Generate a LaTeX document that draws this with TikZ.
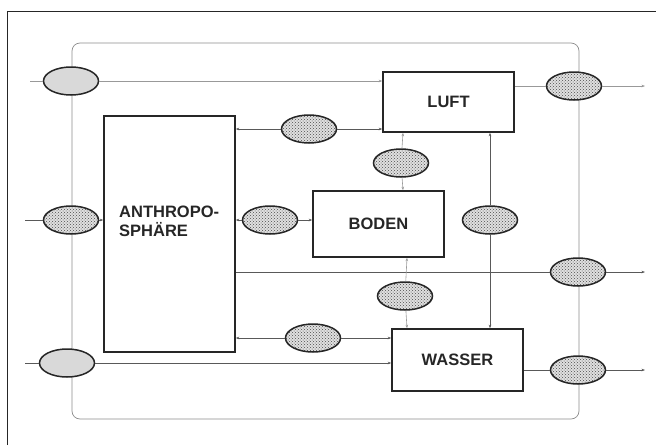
\documentclass[tikz,border=0pt]{standalone}
\usepackage{fontspec}
\setmainfont{Liberation Sans}
\usetikzlibrary{patterns,arrows.meta,shapes.geometric}
\begin{document}
\begin{tikzpicture}[x=1pt,y=-1pt,
  lbl/.style={font=\fontsize{16.5}{19}\selectfont\bfseries,text=black!85},
  compbox/.style={lbl,draw=black!85,line width=1.5pt,minimum width=131pt,inner sep=0pt},
  flowell/.style={ellipse,draw=black!85,line width=1.5pt,minimum width=55pt,minimum height=28pt,inner sep=0pt,
    preaction={fill=black!12},pattern=crosshatch dots,pattern color=black!70},
  lightell/.style={ellipse,draw=black!85,line width=1.5pt,minimum width=55pt,minimum height=28pt,inner sep=0pt,
    fill=black!15},
  flow/.style={draw=black!65,line width=0.6pt},
  faint/.style={draw=black!40,line width=0.6pt},
  tip/.style={-{Stealth[length=3.5pt,width=2.6pt]}}
]
\useasboundingbox (0,0) rectangle (656,445);
% outer frame (left and top)
\draw[black!85,line width=1pt] (7,445) -- (7,11) -- (656,11);
% inner system boundary
\draw[black!45,line width=0.7pt,rounded corners=8pt] (72,43) rectangle (579,419);

% boxes
\node[compbox,minimum height=236pt] (anthro) at (169.5,234) {};
\node[lbl,align=left,anchor=west,inner sep=0pt] (anthrotext) at (119,221) {ANTHROPO-\\SPH\"ARE};
\node[compbox,minimum height=60pt] (luft) at (448.5,102) {LUFT};
\node[compbox,minimum height=66pt] (boden) at (378.5,224) {BODEN};
\node[compbox,minimum height=62pt] (wasser) at (457.5,360) {WASSER};

% ellipses
\node[lightell] (e1) at (71,81) {};
\node[flowell] (e2) at (71,220) {};
\node[lightell] (e3) at (67,363) {};
\node[flowell] (e4) at (309,129) {};
\node[flowell] (e5) at (270,220) {};
\node[flowell] (e6) at (401,163) {};
\node[flowell] (e7) at (490,220) {};
\node[flowell] (e8) at (405,296) {};
\node[flowell] (e9) at (578,272) {};
\node[flowell] (e10) at (313,338) {};
\node[flowell] (e11) at (578,370) {};
\node[flowell] (e12) at (574,86) {};

% free ends and guide points
\coordinate (in1) at (30,81);
\coordinate (in2) at (25,220);
\coordinate (in3) at (25,363);
\coordinate (out1) at (645,86);
\coordinate (out2) at (645,272);
\coordinate (out3) at (645,370);
\coordinate (x6) at (403,0);
\coordinate (x8) at (407,0);

% inputs
\draw[faint] (in1) -- (e1);
\draw[faint,tip] (e1) -- (luft.west |- e1);
\draw[flow] (in2) -- (e2);
\draw[flow,tip] (e2) -- (anthro.west |- e2);
\draw[flow] (in3) -- (e3);
\draw[flow,tip] (e3) -- (wasser.west |- e3);

% anthroposphere exchanges
\draw[flow,tip] (e4) -- (anthro.east |- e4);
\draw[flow,tip] (e4) -- (luft.west |- e4);
\draw[flow,tip] (e5) -- (anthro.east |- e5);
\draw[flow,tip] (e5) -- (boden.west |- e5);
\draw[flow,tip] (e10) -- (anthro.east |- e10);
\draw[flow,tip] (e10) -- (wasser.west |- e10);
\draw[flow] (anthro.east |- e9) -- (e9);
\draw[flow,tip] (e9) -- (out2);

% environmental exchanges
\draw[faint,tip] (e6) -- (x6 |- luft.south);
\draw[faint,tip] (e6) -- (x6 |- boden.north);
\draw[flow,tip] (e7) -- (e7 |- luft.south);
\draw[flow,tip] (e7) -- (e7 |- wasser.north);
\draw[faint,tip] (e8) -- (x8 |- boden.south);
\draw[faint,tip] (e8) -- (x8 |- wasser.north);

% outputs
\draw[faint] (luft.east |- e12) -- (e12);
\draw[faint,tip] (e12) -- (out1);
\draw[flow] (wasser.east |- e11) -- (e11);
\draw[flow,tip] (e11) -- (out3);
\end{tikzpicture}
\end{document}
